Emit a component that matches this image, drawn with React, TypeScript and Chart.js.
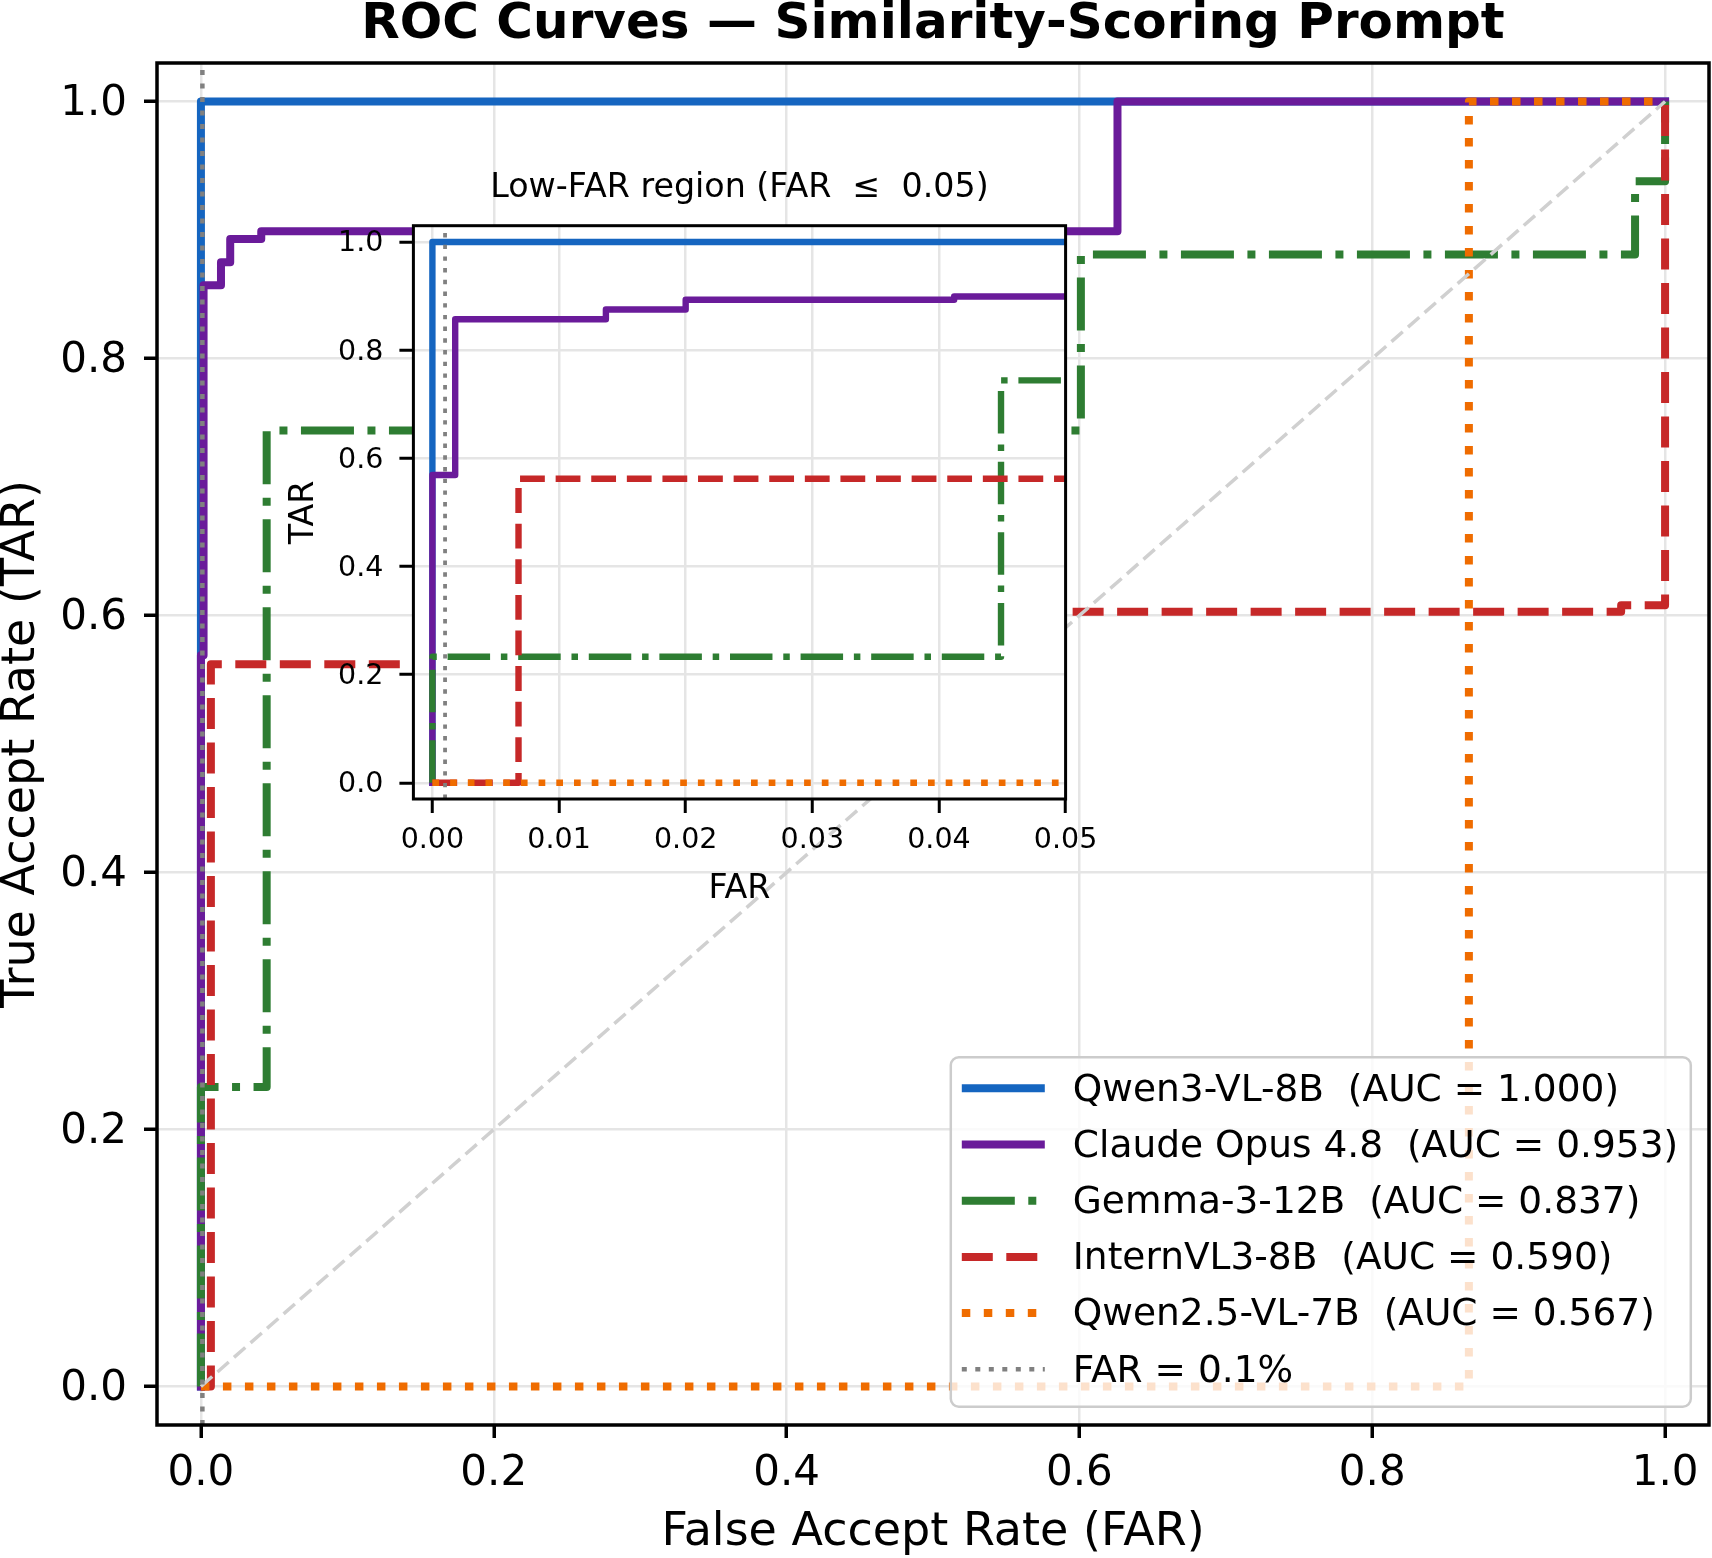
import React, { useEffect, useRef } from 'react';
import { Chart, registerables } from 'chart.js';

Chart.register(...registerables);

const FONT = "'DejaVu Sans', 'Liberation Sans', sans-serif";

// ---------- data ----------
const modelNames = ['Qwen3-VL-8B', 'Claude Opus 4.8', 'Gemma-3-12B', 'InternVL3-8B', 'Qwen2.5-VL-7B'];
const aucLabels = ['1.000', '0.953', '0.837', '0.590', '0.567'];

const qwen3Far = [0, 0, 1];
const qwen3Tar = [0, 1, 1];

const claudeFar = [0, 0, 0.0018, 0.0018, 0.0137, 0.0137, 0.020, 0.020, 0.0412, 0.0412, 0.626, 0.626, 1.0];
const claudeTar = [0, 0.569, 0.569, 0.857, 0.857, 0.875, 0.875, 0.893, 0.893, 0.899, 0.899, 1.0, 1.0];

const gemmaFar = [0, 0, 0.0449, 0.0449, 0.601, 0.601, 0.9795, 0.9795, 1.0, 1.0];
const gemmaTar = [0, 0.233, 0.233, 0.744, 0.744, 0.881, 0.881, 0.938, 0.938, 1.0];

const internFar = [0, 0.0068, 0.0068, 0.25, 0.25, 0.970, 0.970, 1.0, 1.0];
const internTar = [0, 0, 0.562, 0.562, 0.603, 0.603, 0.608, 0.608, 1.0];

const qwen25Far = [0, 0.866, 0.866, 1.0];
const qwen25Tar = [0, 0, 1.0, 1.0];

const chanceFar = [0, 1];
const chanceTar = [0, 1];

const farRefValue = 0.001;
const farRefLabel = 'FAR = 0.1%';
const farRefSpan = [-0.03, 1.03];

const mainXTicks = [0, 0.2, 0.4, 0.6, 0.8, 1.0];
const mainXTickLabels = ['0.0', '0.2', '0.4', '0.6', '0.8', '1.0'];
const mainYTicks = [0, 0.2, 0.4, 0.6, 0.8, 1.0];
const mainYTickLabels = ['0.0', '0.2', '0.4', '0.6', '0.8', '1.0'];

const insetXTicks = [0, 0.01, 0.02, 0.03, 0.04, 0.05];
const insetXTickLabels = ['0.00', '0.01', '0.02', '0.03', '0.04', '0.05'];
const insetYTicks = [0, 0.2, 0.4, 0.6, 0.8, 1.0];
const insetYTickLabels = ['0.0', '0.2', '0.4', '0.6', '0.8', '1.0'];

// ---------- styles ----------
const COLORS = ['#1565C0', '#6A1B9A', '#2E7D32', '#C62828', '#EF6C00'];
const MAIN_DASH = [[], [], [53, 13.5, 8, 13.5], [31, 13.5], [8.5, 13.5]];
const INSET_DASH = [[], [], [42.5, 10.8, 6.5, 10.8], [24.8, 10.8], [6.7, 11]];
const GRID = '#e5e5e5';

const pts = (xs: number[], ys: number[]) => xs.map((x, i) => ({ x, y: ys[i] }));
const curveData = [
  pts(qwen3Far, qwen3Tar),
  pts(claudeFar, claudeTar),
  pts(gemmaFar, gemmaTar),
  pts(internFar, internTar),
  pts(qwen25Far, qwen25Tar),
];

function buildDatasets(inset: boolean) {
  const lw = inset ? 6.4 : 8;
  const dashes = inset ? INSET_DASH : MAIN_DASH;
  const ds: any[] = curveData.map((d, i) => ({
    label: `${modelNames[i]}  (AUC = ${aucLabels[i]})`,
    data: d,
    borderColor: COLORS[i],
    backgroundColor: COLORS[i],
    borderWidth: lw,
    borderDash: dashes[i],
    borderCapStyle: dashes[i].length ? 'butt' : 'square',
    borderJoinStyle: 'round',
    pointRadius: 0,
    fill: false,
    tension: 0,
  }));
  if (!inset) {
    ds.push({
      label: '',
      data: pts(chanceFar, chanceTar),
      borderColor: '#d0d0d0',
      borderWidth: 3.5,
      borderDash: [15, 7],
      borderCapStyle: 'butt',
      pointRadius: 0,
      fill: false,
    });
  }
  ds.push({
    label: farRefLabel,
    data: farRefSpan.map((y) => ({ x: farRefValue, y })),
    borderColor: '#808080',
    borderWidth: inset ? 3.8 : 4.5,
    borderDash: inset ? [4.4, 7.3] : [5, 8.5],
    borderCapStyle: 'butt',
    pointRadius: 0,
    fill: false,
  });
  ds.forEach((d, i) => { d.order = 100 - i; });
  return ds;
}

const framePlugin = (lw: number) => ({
  id: 'frame',
  afterDatasetsDraw(chart: any) {
    const { ctx, chartArea: a } = chart;
    ctx.save();
    ctx.strokeStyle = '#000';
    ctx.lineWidth = lw;
    ctx.setLineDash([]);
    ctx.strokeRect(a.left, a.top, a.right - a.left, a.bottom - a.top);
    ctx.restore();
  },
});

const whiteBgPlugin = {
  id: 'whiteBg',
  beforeDraw(chart: any) {
    const { ctx, chartArea: a } = chart;
    ctx.save();
    ctx.fillStyle = '#ffffff';
    ctx.fillRect(a.left, a.top, a.right - a.left, a.bottom - a.top);
    ctx.restore();
  },
};

const legendPlugin = {
  id: 'mplLegend',
  afterDraw(chart: any) {
    const { ctx, chartArea: a } = chart;
    const items = chart.data.datasets.filter((d: any) => d.label);
    const right = a.right - 18.2;
    const bottom = a.bottom - 18.3;
    const w = 740;
    const h = 349.4;
    const left = right - w;
    const top = bottom - h;
    ctx.save();
    ctx.beginPath();
    const r = 8;
    ctx.moveTo(left + r, top);
    ctx.arcTo(right, top, right, bottom, r);
    ctx.arcTo(right, bottom, left, bottom, r);
    ctx.arcTo(left, bottom, left, top, r);
    ctx.arcTo(left, top, right, top, r);
    ctx.closePath();
    ctx.fillStyle = 'rgba(255,255,255,0.8)';
    ctx.fill();
    ctx.strokeStyle = '#cccccc';
    ctx.lineWidth = 2.5;
    ctx.stroke();
    items.forEach((d: any, i: number) => {
      const y = top + 31 + i * 56.2;
      ctx.beginPath();
      ctx.setLineDash(d.borderDash || []);
      ctx.lineDashOffset = 0;
      ctx.lineCap = 'butt';
      ctx.strokeStyle = d.borderColor;
      ctx.lineWidth = d.borderWidth;
      ctx.moveTo(left + 11, y);
      ctx.lineTo(left + 94, y);
      ctx.stroke();
      ctx.setLineDash([]);
      ctx.fillStyle = '#000';
      ctx.font = `37.5px ${FONT}`;
      ctx.textBaseline = 'middle';
      ctx.textAlign = 'left';
      ctx.fillText(d.label, left + 122, y + 2.5);
    });
    ctx.restore();
  },
};

function axisCommon(ticks: number[], labels: string[], o: any) {
  return {
    type: 'linear',
    min: o.min,
    max: o.max,
    afterBuildTicks: (s: any) => { s.ticks = ticks.map((v) => ({ value: v })); },
    afterFit: o.afterFit,
    ticks: {
      callback: (_v: any, i: number) => labels[i],
      font: { family: FONT, size: o.tickSize, lineHeight: 1.2 },
      color: '#000',
      padding: o.tickPad,
      maxRotation: 0,
      minRotation: 0,
      autoSkip: false,
      labelOffset: o.labelOffset || 0,
    },
    grid: {
      color: GRID,
      lineWidth: 2.5,
      drawTicks: true,
      tickLength: o.tickLen,
      tickColor: '#000',
      tickWidth: o.tickWidth,
    },
    border: { display: false },
    title: {
      display: true,
      text: o.title,
      color: '#000',
      font: { family: FONT, size: o.titleSize, lineHeight: o.titleLH || 1 },
      padding: o.titlePad,
    },
  };
}

export default function App() {
  const mainRef = useRef<HTMLCanvasElement>(null);
  const insetRef = useRef<HTMLCanvasElement>(null);

  useEffect(() => {
    const main = new Chart(mainRef.current as HTMLCanvasElement, {
      type: 'line',
      data: { datasets: buildDatasets(false) },
      options: {
        responsive: false,
        animation: false,
        devicePixelRatio: 1,
        events: [],
        layout: { padding: { left: 0, right: 3, top: 0, bottom: 0 } },
        plugins: {
          legend: { display: false },
          tooltip: { enabled: false },
          title: {
            display: true,
            text: 'ROC Curves — Similarity-Scoring Prompt',
            fullSize: false,
            color: '#000',
            font: { family: FONT, size: 50, weight: 'bold', lineHeight: 1 },
            padding: { top: 0, bottom: 13 },
          },
        },
        scales: {
          x: axisCommon(mainXTicks, mainXTickLabels, {
            min: -0.03, max: 1.03, tickSize: 42, tickPad: 10.7, tickLen: 13, tickWidth: 3.5,
            title: 'False Accept Rate (FAR)', titleSize: 46, titleLH: 0.95, titlePad: { top: 0, bottom: 3.15 },
            afterFit: (s: any) => { s.height = 133; },
          }),
          y: axisCommon(mainYTicks, mainYTickLabels, {
            min: -0.03, max: 1.03, tickSize: 42, tickPad: 17, tickLen: 13, tickWidth: 3.5, labelOffset: 2.9,
            title: 'True Accept Rate (TAR)', titleSize: 46, titleLH: 0.95, titlePad: { top: 0.15, bottom: 0 },
            afterFit: (s: any) => { s.width = 157; },
          }),
        },
      } as any,
      plugins: [framePlugin(3.5), legendPlugin],
    });

    const inset = new Chart(insetRef.current as HTMLCanvasElement, {
      type: 'line',
      data: { datasets: buildDatasets(true) },
      options: {
        responsive: false,
        animation: false,
        devicePixelRatio: 1,
        events: [],
        layout: { padding: { left: 250, right: 646.4, top: 150, bottom: 649 } },
        plugins: {
          legend: { display: false },
          tooltip: { enabled: false },
          title: {
            display: true,
            text: 'Low-FAR region (FAR  ≤  0.05)',
            fullSize: false,
            color: '#000',
            font: { family: FONT, size: 33.3, weight: 'normal', lineHeight: 1 },
            padding: { top: 22.15, bottom: 20.25 },
          },
        },
        scales: {
          x: axisCommon(insetXTicks, insetXTickLabels, {
            min: -0.0015, max: 0.05, tickSize: 28.5, tickPad: 10.3, tickLen: 14, tickWidth: 3,
            title: 'FAR', titleSize: 33.3, titlePad: { top: 0, bottom: 3.45 },
            afterFit: (s: any) => { s.height = 110; },
          }),
          y: axisCommon(insetYTicks, insetYTickLabels, {
            min: -0.03, max: 1.03, tickSize: 28.5, tickPad: 16, tickLen: 14, tickWidth: 3, labelOffset: 2,
            title: 'TAR', titleSize: 33.3, titlePad: { top: 38.15, bottom: 0 },
            afterFit: (s: any) => { s.width = 163.4; },
          }),
        },
      } as any,
      plugins: [whiteBgPlugin, framePlugin(3)],
    });

    return () => {
      main.destroy();
      inset.destroy();
    };
  }, []);

  return (
    <div style={{ position: 'absolute', left: 0, top: 0, width: 1712, height: 1558, background: '#fff' }}>
      <canvas ref={mainRef} width={1712} height={1558} style={{ position: 'absolute', left: 0, top: 0 }} />
      <canvas ref={insetRef} width={1712} height={1558} style={{ position: 'absolute', left: 0, top: 0, pointerEvents: 'none' }} />
    </div>
  );
}
